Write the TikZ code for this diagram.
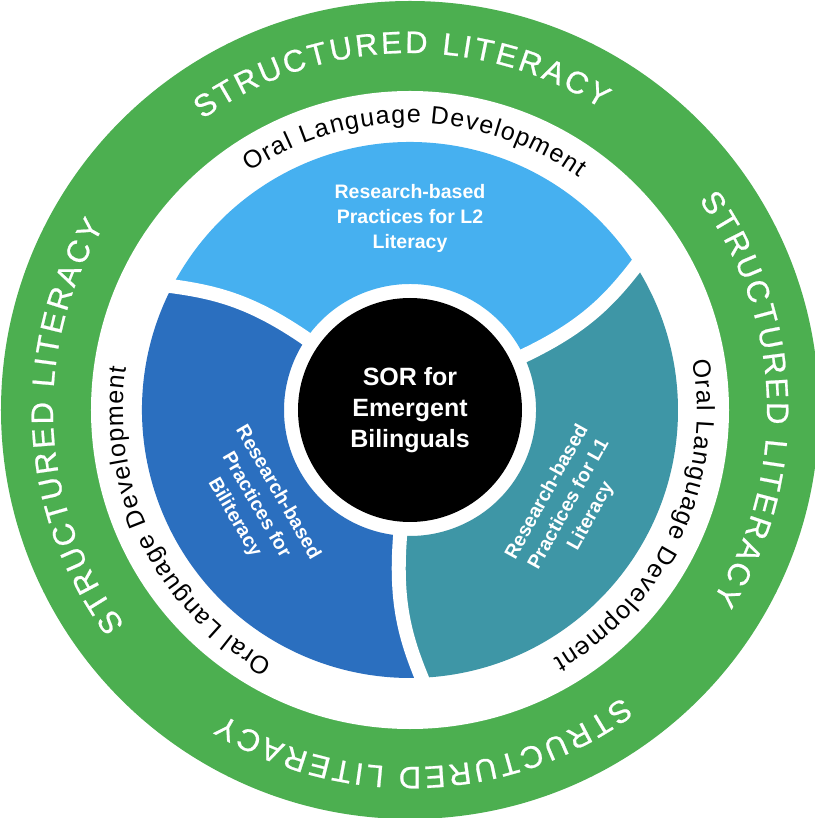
\documentclass[tikz,border=0pt]{standalone}
\usepackage{fontspec}
\setmainfont{Liberation Sans}
\setsansfont{Liberation Sans}
\newfontfamily\ringfont[FakeBold=0.7]{Liberation Sans}
\usepackage{tikz}
\usetikzlibrary{decorations.text}
\definecolor{ringgreen}{HTML}{4CAF50}
\definecolor{skyseg}{HTML}{46B0F0}
\definecolor{royalseg}{HTML}{2B6FBF}
\definecolor{tealseg}{HTML}{3E96A6}
\tikzset{
  core/.style={circle, fill=black, text=white, minimum size=224pt, inner sep=0pt,
    font=\bfseries\fontsize{25}{31}\selectfont, align=center},
  seglbl/.style={text=white, font=\bfseries\fontsize{19.5}{25}\selectfont, align=center, inner sep=0pt},
  gapline/.style={draw=white, line width=14pt, line cap=rect},
  ringtxt/.style={decorate, decoration={text along path, text align=fit to path, text color=white,
    text={|\ringfont\fontsize{31}{31}\selectfont|STRUCTURED LITERACY}}},
  oraltxt/.style={decorate, decoration={text along path, text align=fit to path, text color=black,
    text={|\fontsize{25}{25}\selectfont|Oral Language Development}}},
}
\newcommand{\SegIn}{126pt}
\newcommand{\SegOut}{268pt}

\begin{document}
\begin{tikzpicture}
\useasboundingbox (-410pt,-408pt) rectangle (404pt,410pt);
\fill[white] (-410pt,-408pt) rectangle (404pt,410pt);
\fill[ringgreen] (0,0) circle[radius=409pt];
\fill[white] (0,0) circle[radius=319pt];

% three practice segments
\foreach \col/\a/\b in {skyseg/25.5/145.5, royalseg/145.5/265.5, tealseg/265.5/385.5}{
  \pgfmathsetmacro\am{\a+3}
  \pgfmathsetmacro\ao{\a+7}
  \pgfmathsetmacro\bm{\b+3}
  \pgfmathsetmacro\bo{\b+7}
  \fill[\col] (\a:\SegIn) .. controls (\a:190pt) and (\am:225pt) .. (\ao:\SegOut)
    arc[start angle=\ao, end angle=\bo, radius=\SegOut]
    .. controls (\bm:225pt) and (\b:190pt) .. (\b:\SegIn)
    arc[start angle=\b, end angle=\a, radius=\SegIn] -- cycle;
}
\foreach \a in {25.5,145.5,265.5}{
  \pgfmathsetmacro\am{\a+3}
  \pgfmathsetmacro\ao{\a+7}
  \draw[gapline] (\a:\SegIn) .. controls (\a:190pt) and (\am:225pt) .. (\ao:\SegOut);
}

% ring texts
\foreach \c in {91.5,2,272.5,183}{
  \pgfmathsetmacro\s{\c+34}
  \pgfmathsetmacro\e{\c-34}
  \path[ringtxt] (\s:357pt) arc[start angle=\s, end angle=\e, radius=357pt];
}
\foreach \c in {89,-25,206.5}{
  \pgfmathsetmacro\s{\c+35}
  \pgfmathsetmacro\e{\c-35}
  \path[oraltxt] (\s:287pt) arc[start angle=\s, end angle=\e, radius=287pt];
}

\node[core] (SOR) at (0,0) {SOR for\\Emergent\\Bilinguals};
\node[seglbl] (LTWO) at (90:192pt) {Research-based\\Practices for L2\\Literacy};
\node[seglbl, rotate=-60] (BILIT) at (211.7:181pt) {Research-based\\Practices for\\Biliteracy};
\node[seglbl, rotate=61] (LONE) at (329.4:185pt) {Research-based\\Practices for L1\\Literacy};
\end{tikzpicture}
\end{document}
